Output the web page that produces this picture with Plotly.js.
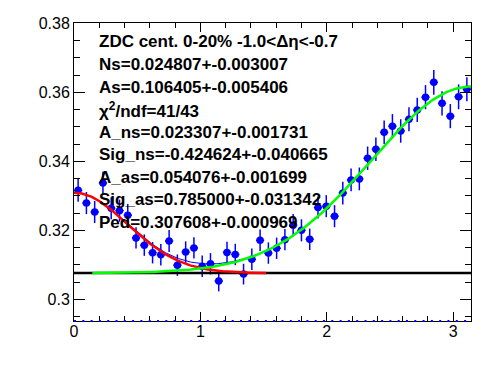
<!DOCTYPE html>
<html><head><meta charset="utf-8">
<script src="https://cdn.plot.ly/plotly-3.0.1.min.js"></script>
<style>body{margin:0;padding:0;background:#fff}#plot{width:496px;height:374px}</style>
</head><body><div id="plot"></div>
<script>
// ---- data ----
const binCenters = [0.0327,0.0982,0.1636,0.2291,0.2945,0.3600,0.4254,0.4909,0.5563,0.6218,
  0.6872,0.7527,0.8181,0.8836,0.9490,1.0145,1.0799,1.1454,1.2108,1.2763,
  1.3417,1.4072,1.4726,1.5381,1.6035,1.6690,1.7344,1.7999,1.8653,1.9308,
  1.9962,2.0617,2.1271,2.1926,2.2580,2.3235,2.3889,2.4544,2.5198,2.5853,
  2.6507,2.7162,2.7816,2.8471,2.9125,2.9780,3.0434,3.1089];
const values = [0.3316,0.3279,0.3253,0.3337,0.3264,0.3257,0.3244,0.3178,0.3157,0.3135,
  0.3129,0.3169,0.3099,0.3137,0.3149,0.3096,0.3103,0.3053,0.3136,0.3130,
  0.3073,0.3116,0.3171,0.3134,0.3148,0.3173,0.3215,0.3200,0.3174,0.3266,
  0.3270,0.3241,0.3308,0.3346,0.3349,0.3409,0.3435,0.3484,0.3502,0.3488,
  0.3522,0.3549,0.3586,0.3629,0.3568,0.3531,0.3587,0.3609];
const errors = [0.0033,0.0032,0.0032,0.0033,0.0032,0.0032,0.0032,0.0031,0.0031,0.0031,
  0.0031,0.0032,0.0031,0.0031,0.0031,0.0031,0.0031,0.0030,0.0031,0.0031,
  0.0030,0.0031,0.0031,0.0031,0.0031,0.0031,0.0032,0.0032,0.0031,0.0032,
  0.0032,0.0032,0.0033,0.0033,0.0033,0.0034,0.0034,0.0034,0.0035,0.0034,
  0.0035,0.0035,0.0035,0.0036,0.0035,0.0035,0.0036,0.0035];
const binHalfWidth = 0.0327;

// fit parameters (from the stats text)
const fitPed = 0.307608;
const fitAns = 0.023307;
const fitSigNs = -0.424624;
const fitAas = 0.054076;
const fitSigAs = 0.785000;
const nearRange = [0, 1.52];
const awayRange = [0.145, Math.PI];

const xTickVals = [0, 1, 2, 3];
const xTickText = ['0', '1', '2', '3'];
const yTickVals = [0.30, 0.32, 0.34, 0.36, 0.38];
const yTickText = ['0.3', '0.32', '0.34', '0.36', '0.38'];

const statLines = [
  'ZDC cent. 0-20% -1.0<Δη<-0.7',
  'Ns=0.024807+-0.003007',
  'As=0.106405+-0.005406',
  'χ<sup>2</sup>/ndf=41/43',
  'A_ns=0.023307+-0.001731',
  'Sig_ns=-0.424624+-0.040665',
  'A_as=0.054076+-0.001699',
  'Sig_as=0.785000+-0.031342',
  'Ped=0.307608+-0.000969'
];

// ---- fit functions ----
function near(x){ return fitAns*Math.exp(-x*x/(2*fitSigNs*fitSigNs)); }
function away(x){ const d = x-Math.PI; return fitAas*Math.exp(-d*d/(2*fitSigAs*fitSigAs)); }
function sample(r, f, n){
  const xs=[], ys=[];
  for(let i=0;i<=n;i++){ const x=r[0]+(r[1]-r[0])*i/n; xs.push(x); ys.push(f(x)); }
  return {xs, ys};
}
const nearC = sample(nearRange, x=>fitPed+near(x), 200);
const awayC = sample(awayRange, x=>fitPed+away(x), 200);
const totC = sample([0, Math.PI], x=>fitPed+near(x)+away(x), 300);

const traces = [
  {x: binCenters, y: values, type:'scatter', mode:'markers',
   marker:{color:'#0000ff', size:7.5},
   error_y:{type:'data', array: errors, visible:true, color:'#0000ff', thickness:1.5, width:0},
   error_x:{type:'constant', value: binHalfWidth, visible:true, color:'#0000ff', thickness:1.5, width:0},
   hoverinfo:'skip', showlegend:false},
  {x:[0, Math.PI], y:[fitPed, fitPed], mode:'lines', line:{color:'#000', width:2.5}, showlegend:false},
  {x: totC.xs, y: totC.ys, mode:'lines', line:{color:'#0000ff', width:1}, showlegend:false},
  {x: nearC.xs, y: nearC.ys, mode:'lines', line:{color:'#ff0000', width:2.5}, showlegend:false},
  {x: awayC.xs, y: awayC.ys, mode:'lines', line:{color:'#00ff00', width:2.5}, showlegend:false}
];

const plotTop = 23, plotBottom = 321, lineH = 22.5, firstLine = 42;
const annotations = statLines.map((t, i) => ({
  text: t, xref:'paper', yref:'paper', x: (97-74)/397, xanchor:'left',
  y: (plotBottom - (firstLine + i*lineH))/(plotBottom-plotTop), yanchor:'middle',
  showarrow:false, font:{family:'Liberation Sans, Arial, sans-serif', size:17, color:'#000', weight:'bold'}
}));

const axisCommon = {
  showline:true, linecolor:'#000', linewidth:1, mirror:'ticks', ticks:'inside',
  tickcolor:'#000', tickwidth:1, showgrid:false, zeroline:false,
  tickfont:{family:'Liberation Sans, Arial, sans-serif', size:16, color:'#000'}
};

const layout = {
  width:496, height:374,
  margin:{l:74, r:25, t:23, b:53},
  paper_bgcolor:'#fff', plot_bgcolor:'#fff',
  showlegend:false,
  xaxis: Object.assign({}, axisCommon, {
    range:[0, Math.PI], tickmode:'array', tickvals:xTickVals, ticktext:xTickText, ticklen:9,
    ticklabelstandoff:-4,
    minor:{ticks:'inside', ticklen:5, dtick:0.2, tick0:0, tickcolor:'#000', showgrid:false}
  }),
  yaxis: Object.assign({}, axisCommon, {
    range:[0.29371, 0.3801], tickmode:'array', tickvals:yTickVals, ticktext:yTickText, ticklen:11,
    minor:{ticks:'inside', ticklen:6, dtick:0.005, tick0:0.3, tickcolor:'#000', showgrid:false}
  }),
  shapes:[{type:'line', xref:'paper', yref:'paper', x0:0, x1:1, y0:0, y1:0,
    line:{color:'#0000ff', width:2, dash:'2px,6.3px'}}],
  annotations: annotations
};

Plotly.newPlot('plot', traces, layout, {staticPlot:true, displayModeBar:false});
</script>
</body></html>
